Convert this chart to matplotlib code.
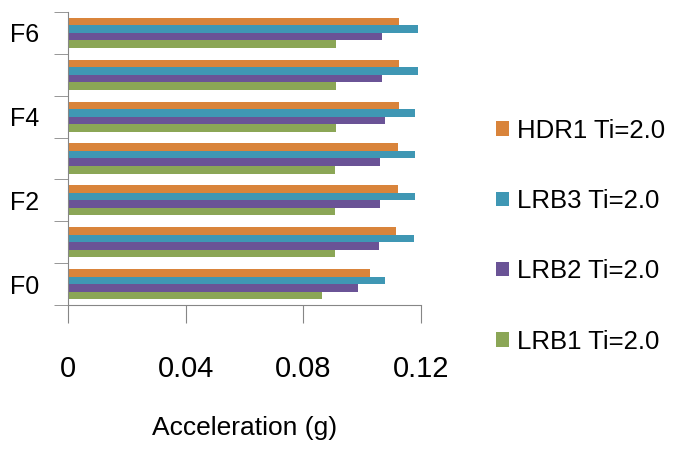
import numpy as np
import matplotlib
matplotlib.use("Agg")
import matplotlib.pyplot as plt
from matplotlib.ticker import FixedLocator

plt.rcParams['font.family'] = ['Liberation Sans', 'DejaVu Sans']

categories = ["F0", "F1", "F2", "F3", "F4", "F5", "F6"]
shown_labels = ["F0", "", "F2", "", "F4", "", "F6"]
lrb1 = [0.0862, 0.0907, 0.0907, 0.0907, 0.0911, 0.0911, 0.0911]
lrb2 = [0.0987, 0.1056, 0.1062, 0.1062, 0.1077, 0.1068, 0.1068]
lrb3 = [0.1077, 0.1176, 0.1181, 0.1181, 0.1181, 0.1189, 0.1189]
hdr1 = [0.1027, 0.1116, 0.1122, 0.1122, 0.1126, 0.1126, 0.1126]

series = [("LRB1 Ti=2.0", lrb1, "#8BA656"),
          ("LRB2 Ti=2.0", lrb2, "#6A5396"),
          ("LRB3 Ti=2.0", lrb3, "#3F97B4"),
          ("HDR1 Ti=2.0", hdr1, "#D9843B")]

fig = plt.figure(figsize=(6.75, 4.55), dpi=100)
ax = fig.add_axes([0.1007, 0.3297, 0.523, 0.644])

y = np.arange(len(categories))
h = 0.18
bars = []
for i, (name, vals, col) in enumerate(series):
    b = ax.barh(y + (i - 1.5) * h, vals, height=h, color=col, label=name)
    bars.append(b)

ax.set_xlim(0, 0.12)
ax.set_ylim(-0.5, 6.5)
ax.set_xticks([0, 0.04, 0.08, 0.12])
ax.set_xticklabels(["0", "0.04", "0.08", "0.12"], fontsize=21)
ax.set_yticks(y)
ax.set_yticklabels(shown_labels, fontsize=18)
ax.yaxis.set_minor_locator(FixedLocator(np.arange(-0.5, 7, 1)))
ax.tick_params(axis='y', which='major', length=0, pad=21)
ax.tick_params(axis='y', which='minor', length=10, color='#868686')
ax.tick_params(axis='x', length=13, color='#868686', pad=23)

for s in ['top', 'right']:
    ax.spines[s].set_visible(False)
for s in ['left', 'bottom']:
    ax.spines[s].set_color('#868686')

ax.set_xlabel("Acceleration (g)", fontsize=19, labelpad=24)

handles = bars[::-1]
fig.legend(handles, [s[0] for s in series][::-1], loc='center left',
           bbox_to_anchor=(0.735, 0.481), frameon=False, fontsize=18.5,
           handlelength=0.5, handleheight=0.5, handletextpad=0.3,
           labelspacing=1.8, borderpad=0, borderaxespad=0)

fig.savefig("out.png", dpi=100)
